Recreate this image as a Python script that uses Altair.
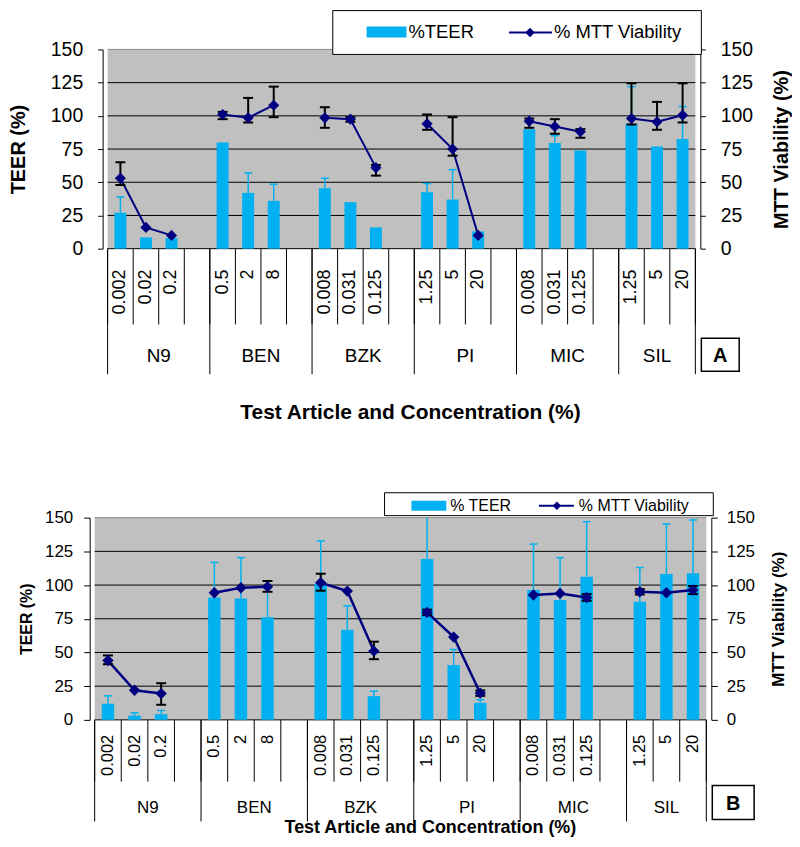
import altair as alt
import pandas as pd

# ---------------- data ----------------
groups = ["N9", "BEN", "BZK", "PI", "MIC", "SIL"]
concentrations = [
    ["0.002", "0.02", "0.2"],
    ["0.5", "2", "8"],
    ["0.008", "0.031", "0.125"],
    ["1.25", "5", "20"],
    ["0.008", "0.031", "0.125"],
    ["1.25", "5", "20"],
]

# Panel A
teer_a = [27, 8.5, 8, 80, 42, 36, 45.5, 35, 16, 42.5, 37, 13, 90, 79.5, 74, 94, 77, 82.5]
teer_a_err = [39, None, None, None, 57, 48.5, 53, None, None, 49, 59.5, None, None, 85, None, 122, None, 107]
mtt_a = [53, 16, 10, 101, 98.5, 108, 98.5, 97.5, 61, 94, 75, 10, 96, 92, 88, 98, 95.5, 100.5]
mtt_a_lo = [48, None, None, 97.5, 95, 99, 91, 95.5, 55, 89.5, 70, None, 91, 86.5, 83.5, 93.5, 89.5, 95]
mtt_a_hi = [65, None, None, 103, 113.5, 122, 106.5, 99, 63, 101, 99, None, 98, 97.5, 90, 124.5, 110.5, 124.5]

# Panel B
teer_b = [12, 3.2, 4.2, 90.8, 90, 76.2, 101, 66.8, 17.6, 119.3, 40.6, 12.6, 96.3, 88.9, 106.2, 87.6, 108.2, 108.7]
teer_b_err = [17.8, 5.2, 7, 116.8, 120.3, 98, 132.7, 84.6, 21.3, 155, 52.2, 15, 130.4, 120.3, 147, 113, 145.3, 148.3]
mtt_b = [44, 22, 19.5, 94.3, 98, 98.8, 101.7, 95.5, 51, 79.7, 61.4, 19.8, 92.6, 93.8, 90.8, 95, 94.3, 96.3]
mtt_b_lo = [41.3, None, 11.2, None, None, 95, 95.8, None, 45, 77.7, None, 17.8, None, None, 88.3, 93, None, 93.3]
mtt_b_hi = [47.8, None, 27.2, None, None, 103, 108.4, None, 58, 81.7, None, 21.8, None, None, 93.3, 97, None, 99.3]

y_ticks = [0, 25, 50, 75, 100, 125, 150]
legend_a = ["%TEER", "% MTT Viability"]
legend_b = ["% TEER", "% MTT Viability"]
x_title = "Test Article and Concentration (%)"
y_left_title = "TEER (%)"
y_right_title = "MTT Viability (%)"
panel_letters = ["A", "B"]

# ---------------- styling ----------------
FONT = "Liberation Sans, Arial, Helvetica, sans-serif"
TEER_BLUE = "#00B0F0"
MTT_NAVY = "#000080"
PLOT_GRAY = "#C0C0C0"
Y_MAX = y_ticks[-1]

slots_per_group = 4
n_slots = slots_per_group * len(groups) - 1


def build_table(teer, teer_err, mtt, lo, hi):
    rows = []
    k = 0
    for gi, (g, concs) in enumerate(zip(groups, concentrations)):
        for j, c in enumerate(concs):
            rows.append({"group": g, "conc": c, "pos": gi * slots_per_group + j + 0.5,
                         "teer": teer[k], "teer_err": teer_err[k], "mtt": mtt[k],
                         "mtt_lo": lo[k], "mtt_hi": hi[k]})
            k += 1
    return pd.DataFrame(rows)


boundaries = pd.DataFrame({"b": list(range(n_slots + 1))})
group_edges = [gi * slots_per_group for gi in range(len(groups))] + [n_slots]
group_bounds = pd.DataFrame({"b": group_edges})
group_centers = pd.DataFrame({"group": groups,
                              "c": [(group_edges[i] + group_edges[i + 1]) / 2 for i in range(len(groups))]})
extent = pd.DataFrame({"x0": [0], "x1": [n_slots]})
grid_df = pd.DataFrame({"v": y_ticks, "x0": [0] * len(y_ticks), "x1": [n_slots] * len(y_ticks)})
one = pd.DataFrame({"k": [0]})


def make_panel(tbl, s, legend_labels, letter):
    W, H, xo = s["w"], s["h"], s["xo"]

    def px(v):
        return alt.value(v + xo)

    xs = alt.Scale(domain=[0, n_slots], range=[xo, W], nice=False, zero=False)
    ys = alt.Scale(domain=[0, Y_MAX], nice=False, zero=True)

    left_axis = alt.Axis(
        orient="left", values=y_ticks, title=y_left_title, grid=False, offset=-xo,
        domainColor="black", tickColor="black", tickSize=s["tick"],
        labelPadding=s["lpad"], labelFont=FONT, labelFontSize=s["lab_fs"], labelColor="black",
        titleFont=FONT, titleFontSize=s["title_fs"], titleFontWeight="bold", titleColor="black",
        titlePadding=s["ltpad"])
    right_axis = alt.Axis(
        orient="right", values=y_ticks, title=y_right_title, grid=False,
        domainColor="black", tickColor="black", tickSize=s["tick"],
        labelPadding=s["rpad"], labelFont=FONT, labelFontSize=s["lab_fs"], labelColor="black",
        titleFont=FONT, titleFontSize=s["rtitle_fs"], titleFontWeight="bold", titleColor="black",
        titleAngle=270, titleBaseline="top", titlePadding=s["rtpad"])

    def X(field):
        return alt.X(field, scale=xs, axis=None)

    def YL(field):
        return alt.Y(field, scale=ys, axis=left_axis)

    def YR(field):
        return alt.Y(field, scale=ys, axis=right_axis)

    # plot background and horizontal grid lines
    bg = alt.Chart(extent).mark_rect(color=PLOT_GRAY).encode(
        x=X("x0:Q"), x2="x1:Q", y=YL("y0:Q"), y2="y1:Q").transform_calculate(y0="0", y1=str(Y_MAX))
    grid = alt.Chart(grid_df).mark_rule(strokeWidth=1).encode(
        x=X("x0:Q"), x2="x1:Q", y=YL("v:Q"),
        color=alt.condition(alt.datum.v >= Y_MAX, alt.value("#8c8c8c"), alt.value("black")))

    bars = alt.Chart(tbl).mark_bar(size=s["bar"], color=TEER_BLUE).encode(x=X("pos:Q"), y=YL("teer:Q"))
    te = tbl.dropna(subset=["teer_err"])
    teer_rule = alt.Chart(te).mark_rule(color=TEER_BLUE, strokeWidth=1.5).encode(
        x=X("pos:Q"), y=YL("teer:Q"), y2="err_c:Q").transform_calculate(
        err_c=f"min(datum.teer_err, {Y_MAX})")
    teer_cap = alt.Chart(te).mark_tick(orient="horizontal", color=TEER_BLUE, size=8, thickness=1.5,
                                       opacity=1).encode(x=X("pos:Q"), y=YL("teer_err:Q")).transform_filter(
        f"datum.teer_err <= {Y_MAX}")
    teer_group = alt.layer(bg, grid, bars, teer_rule, teer_cap)

    line = alt.Chart(tbl).mark_line(color=MTT_NAVY, strokeWidth=s["lw"]).encode(
        x=X("pos:Q"), y=YR("mtt:Q"), detail="group:N", order="pos:Q")
    me = tbl.dropna(subset=["mtt_lo"])
    mtt_rule = alt.Chart(me).mark_rule(color="black", strokeWidth=2).encode(
        x=X("pos:Q"), y=YR("mtt_lo:Q"), y2="mtt_hi:Q")
    cap_lo = alt.Chart(me).mark_tick(orient="horizontal", color="black", size=10, thickness=2,
                                     opacity=1).encode(x=X("pos:Q"), y=YR("mtt_lo:Q"))
    cap_hi = alt.Chart(me).mark_tick(orient="horizontal", color="black", size=10, thickness=2,
                                     opacity=1).encode(x=X("pos:Q"), y=YR("mtt_hi:Q"))
    pts = alt.Chart(tbl).mark_point(shape="diamond", filled=True, size=s["dia"], color=MTT_NAVY,
                                    opacity=1).encode(x=X("pos:Q"), y=YR("mtt:Q"))
    mtt_group = alt.layer(line, mtt_rule, cap_lo, cap_hi, pts)

    # category axis (two rows)
    sep = alt.Chart(boundaries).mark_rule(color="black", strokeWidth=1).encode(
        x=X("b:Q"), y=alt.value(H), y2=alt.value(s["row1"]))
    gsep = alt.Chart(group_bounds).mark_rule(color="black", strokeWidth=1).encode(
        x=X("b:Q"), y=alt.value(H), y2=alt.value(s["row2"]))
    conc_text = alt.Chart(tbl).mark_text(angle=270, align="right", baseline="middle", font=FONT,
                                         fontSize=s["conc_fs"], color="black").encode(
        x=X("pos:Q"), y=alt.value(s["conc_y"]), text="conc:N")
    grp_text = alt.Chart(group_centers).mark_text(align="center", baseline="middle", font=FONT,
                                                  fontSize=s["grp_fs"], color="black").encode(
        x=X("c:Q"), y=alt.value(s["grp_y"]), text="group:N")
    xt = alt.Chart(one).mark_text(align="center", baseline="middle", font=FONT, fontSize=s["xt_fs"],
                                  fontWeight="bold", color="black").encode(
        x=px(s["xt"][0]), y=alt.value(s["xt"][1]), text=alt.value(x_title))

    lb = s["letter_box"]
    letter_box = alt.Chart(one).mark_rect(fill="white", stroke="black", strokeWidth=1.5).encode(
        x=px(lb[0]), x2=px(lb[1]), y=alt.value(lb[2]), y2=alt.value(lb[3]))
    letter_text = alt.Chart(one).mark_text(align="center", baseline="middle", font=FONT, fontSize=20,
                                           fontWeight="bold", color="black").encode(
        x=px((lb[0] + lb[1]) / 2), y=alt.value((lb[2] + lb[3]) / 2 + 1), text=alt.value(letter))

    # legend
    bx = s["legend_box"]
    leg_box = alt.Chart(one).mark_rect(fill="white", stroke="black", strokeWidth=1).encode(
        x=px(bx[0]), x2=px(bx[1]), y=alt.value(bx[2]), y2=alt.value(bx[3]))
    sw = s["swatch"]
    leg_sw = alt.Chart(one).mark_rect(color=TEER_BLUE).encode(
        x=px(sw[0]), x2=px(sw[1]), y=alt.value(sw[2]), y2=alt.value(sw[3]))
    leg_t1 = alt.Chart(one).mark_text(align="left", baseline="middle", font=FONT, fontSize=s["leg_fs"],
                                      color="black").encode(
        x=px(s["t1"][0]), y=alt.value(s["t1"][1]), text=alt.value(legend_labels[0]))
    ln = s["leg_line"]
    leg_line = alt.Chart(one).mark_rule(color=MTT_NAVY, strokeWidth=2).encode(
        x=px(ln[0]), x2=px(ln[1]), y=alt.value(ln[2]))
    leg_dia = alt.Chart(one).mark_point(shape="diamond", filled=True, size=s["leg_dia"], color=MTT_NAVY,
                                        opacity=1).encode(x=px(s["dia_x"]), y=alt.value(ln[2]))
    leg_t2 = alt.Chart(one).mark_text(align="left", baseline="middle", font=FONT, fontSize=s["leg_fs"],
                                      color="black").encode(
        x=px(s["t2"][0]), y=alt.value(s["t2"][1]), text=alt.value(legend_labels[1]))

    layers = [teer_group, mtt_group, sep, gsep, conc_text, grp_text, xt,
              letter_box, letter_text, leg_box, leg_sw, leg_t1, leg_line, leg_dia, leg_t2]
    if s.get("left_ext"):
        layers.append(alt.Chart(one).mark_rule(color="white", strokeWidth=1).encode(
            x=alt.value(-s["left_ext"]), y=alt.value(0), y2=alt.value(1)))
    return alt.layer(*layers).resolve_scale(y="independent").properties(width=W, height=H)


style_a = dict(w=600, h=200, xo=0, bar=12, dia=125, lw=2, tick=5, lpad=15, rpad=15, lab_fs=19.5,
               title_fs=20, rtitle_fs=20, ltpad=22, rtpad=19,
               row1=276, row2=326, conc_y=221, conc_fs=18, grp_y=308, grp_fs=19,
               xt=(309, 365), xt_fs=21, letter_box=(601, 639, 290, 323),
               legend_box=(231, 601, -39, 5), swatch=(265, 305, -23, -12), t1=(307, -17),
               leg_line=(408, 451, -17), dia_x=429, leg_dia=90, t2=(453, -17), leg_fs=18.5,
               left_ext=94)
# panel B's plot area starts 13 px further left than panel A's
style_b = dict(w=611, h=203, xo=-13, bar=12.5, dia=130, lw=2.5, tick=6, lpad=11, rpad=9, lab_fs=17,
               title_fs=16, rtitle_fs=17, ltpad=10, rtpad=16,
               row1=265, row2=305, conc_y=218, conc_fs=16.5, grp_y=291, grp_fs=17,
               xt=(342, 312), xt_fs=18, letter_box=(625, 667, 269, 303),
               legend_box=(296, 626, -25, -2), swatch=(323, 358, -17, -7), t1=(362, -12),
               leg_line=(451, 486, -12), dia_x=469, leg_dia=72, t2=(491, -12), leg_fs=16)

tbl_a = build_table(teer_a, teer_a_err, mtt_a, mtt_a_lo, mtt_a_hi)
tbl_b = build_table(teer_b, teer_b_err, mtt_b, mtt_b_lo, mtt_b_hi)

panel_a = make_panel(tbl_a, style_a, legend_a, panel_letters[0])
panel_b = make_panel(tbl_b, style_b, legend_b, panel_letters[1])

chart = alt.concat(panel_a, panel_b, columns=1, align="none", spacing=69, padding=0).configure_view(
    fill=None, stroke=None)

chart.save("out.html", embed_options={"renderer": "svg", "actions": False})
